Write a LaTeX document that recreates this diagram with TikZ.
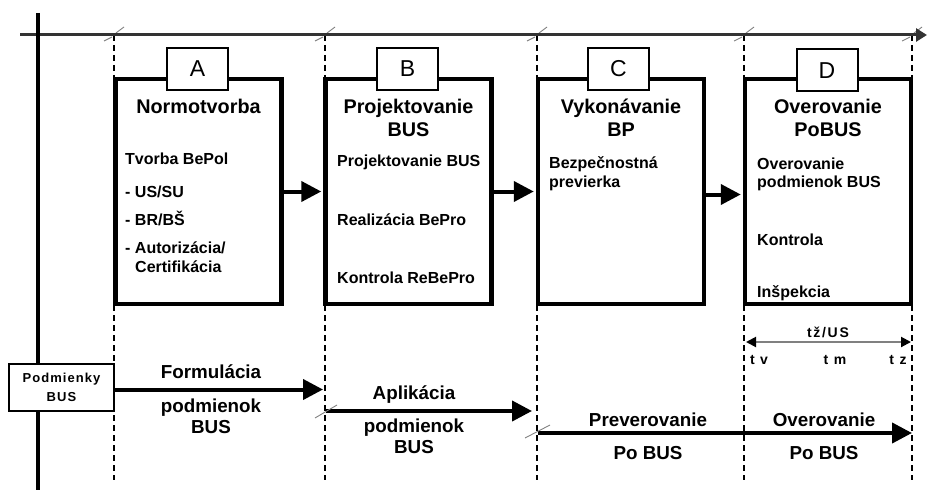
\documentclass[tikz,border=0pt]{standalone}
\usepackage{fontspec}
\setmainfont{Liberation Sans}
\usetikzlibrary{arrows.meta}
\begin{document}
\begin{tikzpicture}[x=1pt,y=-1pt,
  phasebox/.style={draw, line width=4.5pt, fill=white, minimum width=166pt, minimum height=225pt, inner sep=0pt},
  lettbox/.style={draw, line width=2pt, fill=white, minimum width=61pt, minimum height=42pt, inner sep=0pt, font=\fontsize{23}{23}\selectfont},
  ttl/.style={anchor=base, inner sep=0pt, font=\fontsize{19.8}{21}\selectfont\bfseries},
  bodytxt/.style={anchor=base west, inner sep=0pt, font=\fontsize{16}{18}\selectfont\bfseries},
  lowtxt/.style={anchor=base, inner sep=0pt, font=\fontsize{18.8}{20}\selectfont\bfseries},
  smalltxt/.style={anchor=base, inner sep=0pt, font=\fontsize{14}{15}\selectfont\bfseries\addfontfeatures{LetterSpace=12}},
  flow/.style={line width=4pt, -{Triangle[length=20pt,width=20pt]}},
  dashv/.style={line width=1.9pt, dash pattern=on 6pt off 4pt},
  tickm/.style={gray, line width=0.9pt},
]
\useasboundingbox (0,0) rectangle (928,497);

% dashed vertical guide lines
\foreach \n/\x in {1/114,2/325,3/537,4/744,5/912}{
  \coordinate (dt\n) at (\x,35);
  \coordinate (db\n) at (\x,480);
  \draw[dashv] (dt\n) -- (db\n);
  \draw[tickm] (\x+2,33) -- (\x+10,27);
  \draw[tickm] (\x-10,41) -- (\x-2,37);
}

% axes
\coordinate (ax0) at (20,35);
\coordinate (ax1) at (927,35);
\draw[line width=3pt, black!80, -{Triangle[length=11pt,width=13pt]}] (ax0) -- (ax1);
\coordinate (v0) at (38,13);
\coordinate (v1) at (38,490);
\draw[line width=4.5pt] (v0) -- (v1);

% phase boxes
\node[phasebox] (A) at (198.5,191.5) {};
\node[phasebox] (B) at (408.5,191.5) {};
\node[phasebox] (C) at (621,191.5) {};
\node[phasebox] (D) at (828,191.5) {};

\node[lettbox] (LA) at (197.5,69) {A};
\node[lettbox] (LB) at (407.5,69) {B};
\node[lettbox] (LC) at (618.5,69) {C};
\node[lettbox] (LD) at (827,70.5) {D};

% titles
\node[ttl] (tA) at (198.5,114) {Normotvorba};
\node[ttl] (tB1) at (408.5,114) {Projektovanie};
\node[ttl] (tB2) at (408.5,137) {BUS};
\node[ttl] (tC1) at (621,114) {Vykonávanie};
\node[ttl] (tC2) at (621,137) {BP};
\node[ttl] (tD1) at (828,114) {Overovanie};
\node[ttl] (tD2) at (828,137) {PoBUS};

% body texts
\node[bodytxt] (a1) at (125,165) {Tvorba BePol};
\node[bodytxt] (a2) at (125,197) {- US/SU};
\node[bodytxt] (a3) at (125,225) {- BR/BŠ};
\node[bodytxt] (a4) at (125,253) {- Autorizácia/};
\node[bodytxt] (a5) at (135,272) {Certifikácia};

\node[bodytxt] (b1) at (337,167) {Projektovanie BUS};
\node[bodytxt] (b2) at (337,225) {Realizácia BePro};
\node[bodytxt] (b3) at (337,283) {Kontrola ReBePro};

\node[bodytxt] (c1) at (549,168) {Bezpečnostná};
\node[bodytxt] (c2) at (549,187) {previerka};

\node[bodytxt] (d1) at (757,170) {Overovanie};
\node[bodytxt] (d2) at (757,188) {podmienok BUS};
\node[bodytxt] (d3) at (757,245) {Kontrola};
\node[bodytxt] (d4) at (757,297) {Inšpekcia};

% arrows between boxes
\draw[flow] (A.east) -- ([xshift=-2pt]B.west);
\draw[flow] (B.east) -- ([xshift=-2pt]C.west);
\draw[flow] ([yshift=-3pt]C.east) -- ([yshift=-3pt,xshift=-2pt]D.west);

% time span
\coordinate (tv) at (746,342);
\coordinate (tz) at (911,342);
\draw[gray, line width=2pt, {Triangle[length=10pt,width=10pt,black]}-{Triangle[length=10pt,width=10pt,black]}] (tv) -- (tz);
\node[smalltxt] (tzus) at (828,337) {tž/US};
\node[smalltxt] (ltv) at (759,364.5) {t v};
\node[smalltxt] (ltm) at (835,364.5) {t m};
\node[smalltxt] (ltz) at (898,364.5) {t z};

% bottom part
\node[draw, line width=2.5pt, fill=white, minimum width=105pt, minimum height=47pt, inner sep=0pt, align=center,
      font=\fontsize{13}{19}\selectfont\bfseries\addfontfeatures{LetterSpace=8}] (Pod) at (61.5,387.5) {Podmienky\\BUS};

\coordinate (f1) at (323,389.5);
\draw[flow] ([yshift=-2pt]Pod.east) -- (f1);
\node[lowtxt] (fo1) at (211,378.5) {Formulácia};
\node[lowtxt] (fo2) at (211,412) {podmienok};
\node[lowtxt] (fo3) at (211,433.5) {BUS};

\coordinate (ap0) at (326,411);
\coordinate (ap1) at (532,411);
\draw[flow] (ap0) -- (ap1);
\draw[tickm] (315,418) -- (337,405);
\node[lowtxt] (ap2) at (414,399.5) {Aplikácia};
\node[lowtxt] (ap3) at (414,432) {podmienok};
\node[lowtxt] (ap4) at (414,453.5) {BUS};

\coordinate (pv0) at (538,433);
\coordinate (pv1) at (912,433);
\draw[flow] (pv0) -- (pv1);
\draw[tickm] (525,438) -- (550,425);
\node[lowtxt] (pv2) at (648,426.5) {Preverovanie};
\node[lowtxt] (pv3) at (648,459.5) {Po BUS};
\node[lowtxt] (ov1) at (824,426.5) {Overovanie};
\node[lowtxt] (ov2) at (824,459.5) {Po BUS};
\end{tikzpicture}
\end{document}
